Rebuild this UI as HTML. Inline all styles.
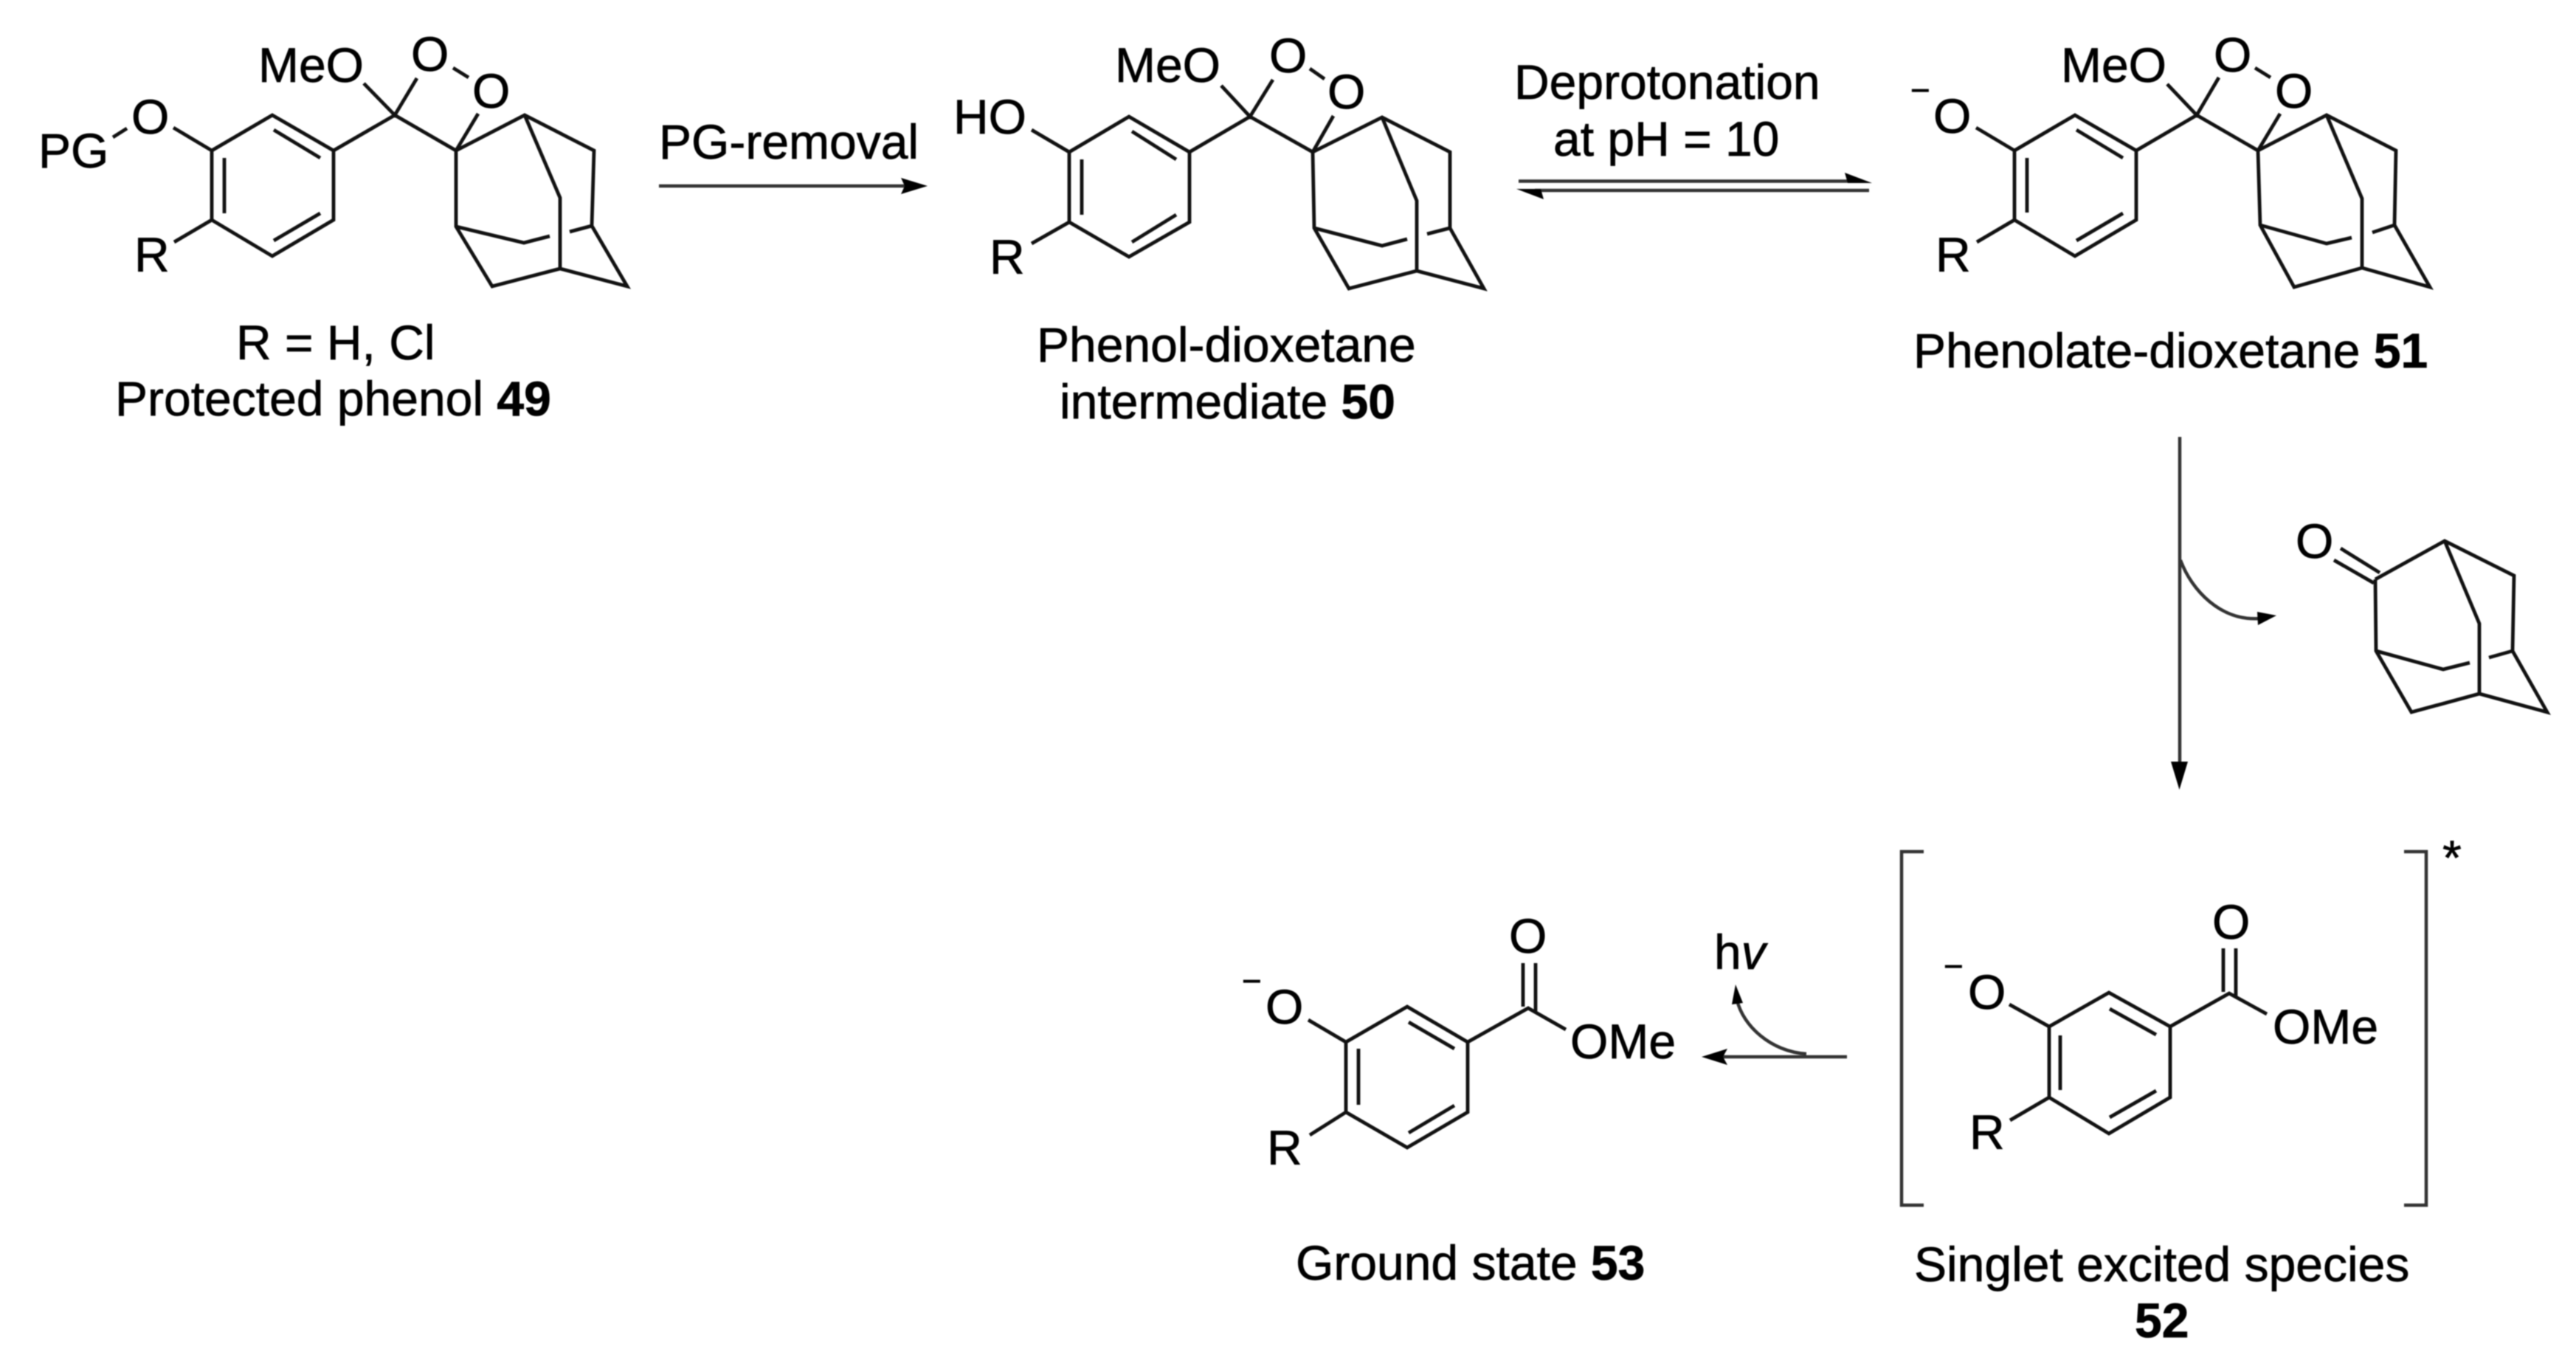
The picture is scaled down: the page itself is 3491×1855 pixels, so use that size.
<!DOCTYPE html>
<html><head><meta charset="utf-8"><style>
html,body{margin:0;padding:0;background:#fff;width:3491px;height:1855px;overflow:hidden}
svg{display:block;filter:blur(.9px)}
text{font-family:"Liberation Sans",Arial,sans-serif;font-size:66px;fill:#000;stroke:#000;stroke-width:.7px}
.m{font-size:46px}
.b{font-weight:700}
path.s{fill:none;stroke:#111;stroke-width:4.8;stroke-linejoin:miter;stroke-linecap:butt}
path.a{fill:none;stroke:#333;stroke-width:4.5}
path.h{fill:#000;stroke:none}
</style></head><body>
<svg xmlns="http://www.w3.org/2000/svg" width="3491" height="1855" viewBox="0 0 3491 1855">
<rect width="3491" height="1855" fill="#fff"/>

<!-- 49 -->
<path class="s" d="M287 204L369 156L452 204L452 298L369 347L287 298Z M371 176L434 214 M304 214L304 289 M371 326L434 289 M452 204L535 156L618 204 M493 113L535 156L565 106 M614 92L635 105 M648 154L618 204 M618 204L711 156L805 204L802 306L850 388L759 364L667 388L618 307L618 204 M711 156L759 268L759 364 M618 307L710 329L745 320 M772 314L802 306 M153 186L172 174 M235 173L287 204 M287 298L236 328"/>
<text x="52" y="227">PG</text>
<text x="178" y="181">O</text>
<text x="350" y="111">MeO</text>
<text x="557" y="96">O</text>
<text x="640" y="146">O</text>
<text x="182" y="368">R</text>
<text x="320" y="487">R = H, Cl</text>
<text x="156" y="563">Protected phenol <tspan class="b">49</tspan></text>

<!-- arrow 1 -->
<text x="893" y="215">PG-removal</text>
<path class="a" d="M893 252L1230 252"/>
<path class="h" d="M1257 252L1221 241L1226 252L1221 263Z"/>

<!-- 50 -->
<path class="s" d="M1449 206L1530 158L1612 206L1612 301L1530 348L1449 301Z M1534 178L1594 216 M1466 216L1466 291 M1534 328L1594 291 M1612 206L1694 158L1779 206 M1655 116L1694 158L1725 108 M1775 93L1795 107 M1807 157L1779 206 M1779 206L1873 159L1965 206L1965 309L2011 391L1920 367L1828 391L1781 309L1779 206 M1873 159L1920 272L1920 367 M1781 309L1873 333L1907 324 M1934 317L1965 309 M1398 176L1449 206 M1449 301L1398 330"/>
<text x="1292" y="181">HO</text>
<text x="1511" y="111">MeO</text>
<text x="1720" y="98">O</text>
<text x="1799" y="147">O</text>
<text x="1341" y="371">R</text>
<text x="1405" y="490">Phenol-dioxetane</text>
<text x="1436" y="567">intermediate <tspan class="b">50</tspan></text>

<!-- equilibrium -->
<text x="2052" y="134">Deprotonation</text>
<text x="2105" y="211">at pH = 10</text>
<path class="a" d="M2058 245.5L2510 245.5 M2533 258L2080 258"/>
<path class="h" d="M2537 248L2500 234L2504 248Z M2055 256L2092 270L2088 256Z"/>

<!-- 51 -->
<path class="s" d="M2730 204L2812 156L2895 204L2895 298L2812 347L2730 298Z M2814 176L2877 214 M2747 214L2747 288 M2814 326L2877 289 M2895 204L2977 156L3060 204 M2937 114L2977 156L3007 105 M3056 92L3077 105 M3090 154L3060 204 M3060 204L3153 156L3247 204L3245 305L3293 389L3201 363L3109 389L3063 305L3060 204 M3153 156L3201 269L3201 363 M3063 305L3153 330L3187 322 M3215 315L3245 305 M2678 173L2730 204 M2730 298L2679 328"/>
<text class="m" x="2589" y="138">−</text>
<text x="2620" y="180">O</text>
<text x="2793" y="111">MeO</text>
<text x="3000" y="97">O</text>
<text x="3083" y="146">O</text>
<text x="2623" y="368">R</text>
<text x="2593" y="498">Phenolate-dioxetane <tspan class="b">51</tspan></text>

<!-- vertical -->
<path class="a" d="M2954 592L2954 1040"/>
<path class="h" d="M2953.5 1070L2942 1032L2965 1032Z"/>
<path class="a" d="M2955 759C2970 800 3010 842 3062 838"/>
<path class="h" d="M3085 834L3059 829L3060 847Z"/>

<!-- adamantanone -->
<path class="s" d="M3172 743L3225 776 M3163 759L3217 790 M3219 785L3313 733L3407 780L3405 882L3452 965L3360 940L3268 965L3220 882L3219 785 M3313 733L3360 845L3360 940 M3220 882L3311 907L3347 898 M3373 891L3405 882"/>
<text x="3111" y="756">O</text>

<!-- 52 -->
<path class="a" d="M2607 1154L2577 1154L2577 1633L2607 1633 M3258 1154L3288 1154L3288 1633L3258 1633"/>
<text x="3323" y="1185" text-anchor="middle">*</text>
<path class="s" d="M2777 1391L2858 1345L2941 1391L2941 1487L2858 1536L2777 1487Z M2859 1367L2922 1402 M2792 1403L2792 1477 M2859 1514L2922 1478 M2941 1391L3021 1346L3072 1374 M3013 1285L3013 1344 M3030 1285L3030 1350 M2723 1361L2777 1391 M2777 1487L2724 1518"/>
<text x="2998" y="1272">O</text>
<text class="m" x="2634" y="1325">−</text>
<text x="2667" y="1367">O</text>
<text x="3080" y="1414">OMe</text>
<text x="2669" y="1557">R</text>
<text x="2594" y="1736">Singlet excited species</text>
<text class="b" x="2893" y="1812">52</text>

<!-- arrow hv -->
<path class="a" d="M2503 1432L2330 1432"/>
<path class="h" d="M2306 1432L2341 1421L2335 1432L2341 1443Z"/>
<path class="a" d="M2448 1428C2400 1425 2362 1390 2354 1355"/>
<path class="h" d="M2352 1334L2347 1361L2362 1359Z"/>
<text x="2323" y="1313">h<tspan font-style="italic">v</tspan></text>

<!-- 53 -->
<path class="s" d="M1824 1412L1907 1364L1989 1412L1989 1507L1907 1555L1824 1507Z M1909 1385L1971 1421 M1841 1421L1841 1497 M1909 1535L1971 1498 M1989 1412L2071 1366L2122 1395 M2064 1305L2064 1364 M2081 1305L2081 1370 M1773 1382L1824 1412 M1824 1507L1775 1538"/>
<text x="2045" y="1291">O</text>
<text class="m" x="1683" y="1345">−</text>
<text x="1715" y="1387">O</text>
<text x="2128" y="1434">OMe</text>
<text x="1717" y="1578">R</text>
<text x="1756" y="1734">Ground state <tspan class="b">53</tspan></text>
</svg>
</body></html>
